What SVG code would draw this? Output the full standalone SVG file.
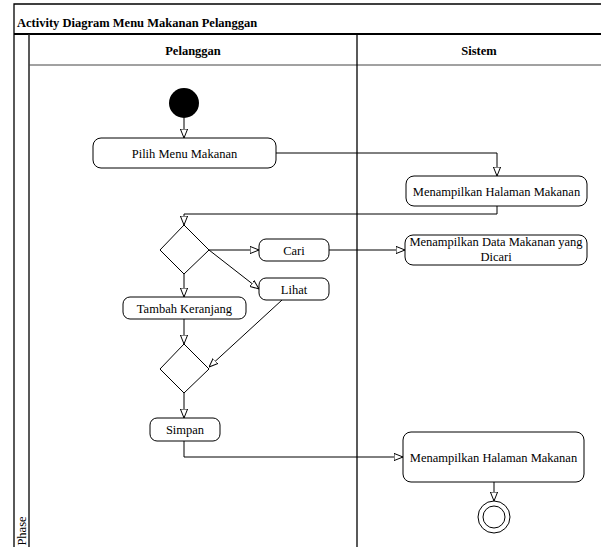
<svg xmlns="http://www.w3.org/2000/svg" width="601" height="547" viewBox="0 0 601 547">
<style>
text{font-family:"Liberation Serif","Times New Roman",serif;font-size:12.5px;fill:#000}
.b{font-weight:bold}
.frame{fill:none;stroke:#000;stroke-width:1.3}
.act{fill:#fff;stroke:#000;stroke-width:1}
.dec{fill:#fff;stroke:#000;stroke-width:1}
.edge{fill:none;stroke:#000;stroke-width:1;marker-end:url(#arr)}
</style>
<defs>
<marker id="arr" viewBox="0 0 10 10" refX="10" refY="5" markerWidth="9" markerHeight="9" markerUnits="userSpaceOnUse" orient="auto">
<path d="M0,1 L10,5 L0,9 Z" fill="#fff" stroke="#000" stroke-width="1.1"/>
</marker>
</defs>
<rect width="601" height="547" fill="#fff"/>
<g id="frame">
<path class="frame" d="M14,550 V4 H610"/>
<line x1="14" y1="34" x2="610" y2="34" stroke="#000" stroke-width="2"/>
<line x1="29" y1="34" x2="29" y2="550" stroke="#222" stroke-width="1.5"/>
<line x1="29" y1="65" x2="610" y2="65" stroke="#444" stroke-width="1"/>
<line x1="357" y1="34" x2="357" y2="550" stroke="#000" stroke-width="1.3"/>
<text class="b" x="17" y="27">Activity Diagram Menu Makanan Pelanggan</text>
<text class="b" x="193" y="55" text-anchor="middle">Pelanggan</text>
<text class="b" x="479" y="55" text-anchor="middle">Sistem</text>
<text x="0" y="0" transform="translate(26,531) rotate(-90)" text-anchor="middle">Phase</text>
</g>
<g id="connectors">
<path class="edge" d="M184,118 V138"/>
<path class="edge" d="M276,153 H497 V176"/>
<path class="edge" d="M497,206 V214 H184 V225"/>
<path class="edge" d="M209,250 H259"/>
<path class="edge" d="M329,250 H405"/>
<path class="edge" d="M209,250 L259,289"/>
<path class="edge" d="M184,274 V297"/>
<path class="edge" d="M184,319 V344"/>
<path class="edge" d="M282,300 L209,367"/>
<path class="edge" d="M184,393 V418"/>
<path class="edge" d="M184,441 V457 H403"/>
<path class="edge" d="M494,482 V501"/>
</g>
<g id="start"><circle cx="184" cy="103" r="15" fill="#000"/></g>
<g id="pilih"><rect class="act" x="93" y="138" width="183" height="30" rx="8"/><text x="184.5" y="157.5" text-anchor="middle">Pilih Menu Makanan</text></g>
<g id="halaman1"><rect class="act" x="406" y="176" width="181" height="30" rx="8"/><text x="496.5" y="195.5" text-anchor="middle">Menampilkan Halaman Makanan</text></g>
<g id="dec1"><polygon class="dec" points="184,225 209,250 184,274 160,250"/></g>
<g id="cari"><rect class="act" x="259" y="239" width="70" height="22" rx="7"/><text x="294" y="254.5" text-anchor="middle">Cari</text></g>
<g id="data"><rect class="act" x="405" y="235" width="182" height="30" rx="8"/><text x="496" y="246" text-anchor="middle">Menampilkan Data Makanan yang</text><text x="496" y="261" text-anchor="middle">Dicari</text></g>
<g id="lihat"><rect class="act" x="259" y="278" width="70" height="22" rx="7"/><text x="294" y="293.5" text-anchor="middle">Lihat</text></g>
<g id="tambah"><rect class="act" x="123" y="297" width="123" height="22" rx="7"/><text x="184.5" y="312.5" text-anchor="middle">Tambah Keranjang</text></g>
<g id="dec2"><polygon class="dec" points="184,344 209,369 184,393 160,369"/></g>
<g id="simpan"><rect class="act" x="150" y="418" width="70" height="23" rx="7"/><text x="185" y="433.5" text-anchor="middle">Simpan</text></g>
<g id="halaman2"><rect class="act" x="403" y="432" width="181" height="50" rx="8"/><text x="493.5" y="461.5" text-anchor="middle">Menampilkan Halaman Makanan</text></g>
<g id="end"><circle cx="494" cy="517" r="16" fill="#fff" stroke="#000" stroke-width="1"/><circle cx="494" cy="517" r="11" fill="#fff" stroke="#000" stroke-width="1"/></g>
</svg>
